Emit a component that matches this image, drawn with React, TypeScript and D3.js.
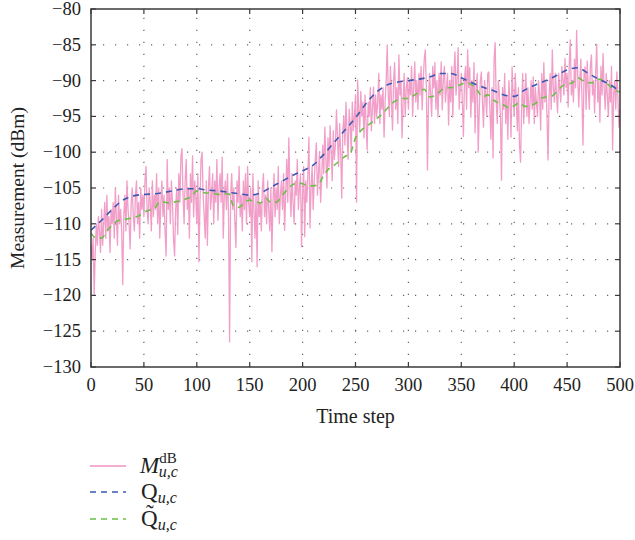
import React, { useRef, useEffect } from 'react';
import * as d3 from 'd3';

// raw measurement M (dB), one value per time step 0..500
const measured = [
  -113, -115, -112, -120, -114, -110, -113, -109, -111, -114,
  -108, -113, -110, -107, -112, -106, -111, -109, -114, -108,
  -110, -107, -112, -105, -109, -113, -106, -110, -108, -111,
  -118.5, -109, -106, -111, -104, -108, -110, -113.5, -107, -105,
  -109, -111, -106, -104, -110, -107, -112, -105, -108, -106,
  -109, -104, -102, -108, -110, -105, -107, -111, -104, -109,
  -106, -108, -103, -110, -105, -112, -107, -104, -109, -106,
  -111, -114.5, -101, -108, -105, -110, -104, -107, -112, -114.5,
  -108, -105, -111.5, -103, -107, -100.5, -99.5, -106, -110, -104,
  -101, -108, -105, -112, -103, -107, -100.5, -109, -104, -106,
  -110, -103, -115.3, -107, -101, -100, -106, -109, -112, -104,
  -113, -105, -102, -108, -106, -103, -110, -104, -107, -101,
  -109.5, -105, -103, -107, -100.7, -112, -106, -104, -108, -103,
  -109, -126.5, -106, -103, -108, -105, -110, -113.3, -104, -107,
  -102, -109, -106, -111, -104, -108, -103, -110, -102, -107,
  -109, -105, -115.3, -103, -108, -112, -106, -116, -104, -109,
  -107, -111, -105, -103, -109, -106, -110, -104, -108, -111,
  -105, -113.9, -107, -103, -109, -105, -108, -102, -110, -106,
  -104, -108, -103, -110.9, -106, -101, -107, -98, -105, -109,
  -103, -107, -110, -104, -106, -101, -108, -105, -103, -113.2,
  -106, -102, -111.8, -104, -107, -103, -97.9, -110.6, -105, -102,
  -108, -104, -101, -98.7, -106, -103, -100, -107, -104, -99,
  -103, -96.5, -101, -105, -98, -102, -96.3, -100, -104, -97,
  -101, -99, -94.1, -98, -102, -96, -100, -106.4, -97, -95,
  -99, -93, -97, -101, -94, -96, -100, -93, -97, -95,
  -92, -107, -89.9, -94, -97, -91.5, -95, -93, -98, -92,
  -96, -99.7, -93, -95, -91, -97, -94, -90.9, -96, -92,
  -95, -93, -89, -96, -92, -94, -91, -97.9, -93, -90,
  -85, -92, -95, -88, -93, -96.9, -90, -87.5, -94, -91,
  -96, -86.4, -92, -90, -98, -93, -89, -95, -91, -89.6,
  -94, -90, -92, -88, -95, -91, -87.4, -93, -90, -94,
  -89, -92, -88, -94.1, -90, -87, -85.7, -91, -102.5, -93,
  -89, -92, -95, -88, -91, -87.5, -94, -90, -95.1, -89,
  -92, -87.4, -94.1, -90, -88, -93, -91, -89, -96.2, -90,
  -93, -88, -95.1, -89, -86, -92, -90, -85.4, -94, -91,
  -89, -93, -97.8, -90, -88, -94, -85.7, -91, -88.2, -95.1,
  -90, -93, -87.5, -97.3, -91, -89, -100, -94, -90, -88.8,
  -93, -96.5, -90, -92, -95, -89, -88.8, -94, -98.2, -91,
  -100.8, -87, -84.7, -93, -96, -90, -92, -95, -103.9, -91,
  -94, -89, -96, -92, -98.2, -90, -93, -97.9, -88.1, -92,
  -95, -89, -93, -97, -91, -99, -101.4, -94, -89, -96,
  -92, -89, -95, -91, -96, -93, -90, -94, -89.5, -96,
  -91, -93, -95, -90, -92, -96.9, -89, -94, -87.5, -93,
  -90, -95, -101.1, -92, -89, -94, -85.7, -91, -93, -89,
  -92, -94.5, -89, -91, -93, -88, -90, -92, -86.9, -91,
  -89, -93.7, -88, -84.3, -92, -90, -93, -87, -91, -83,
  -89, -93.7, -90, -87, -92, -99, -89, -88.1, -94, -87.3,
  -91, -94, -88, -86.4, -92, -90, -94.5, -89, -84.9, -93,
  -90, -95.8, -88, -92, -86.2, -91, -94, -89, -92, -95,
  -90, -93, -88, -99.7, -92, -90, -94, -88.8, -92, -96.5,
  -94,
];

// Q, read every 10 steps
const qValues = [
  -110.9, -109.5, -108, -106.7, -106.1, -105.9, -105.8, -105.6, -105.3, -105.1,
  -105.1, -105.3, -105.4, -105.6, -105.8, -106, -105.7, -104.9, -104.1, -103.3,
  -102.6, -101.8, -100.3, -98.6, -96.9, -95.2, -93.2, -91.6, -90.6, -90.2,
  -90, -89.8, -89.5, -89, -89, -89.6, -90.3, -90.9, -91.4, -92,
  -92.2, -91.3, -90.6, -90, -89.3, -88.5, -88.2, -89, -89.8, -90.5,
  -91.5,
];

// Q tilde, read every 5 steps
const qTildeValues = [
  -111.3, -112, -112, -111, -110.2, -109.6, -109.4, -109.3, -109.1, -108.9,
  -108.4, -108.1, -107.9, -106.9, -107, -107.1, -106.9, -106.8, -106.5, -106.2,
  -105.4, -105.6, -105.7, -105.7, -105.9, -105.9, -105.8, -107.6, -107.7, -107,
  -106.7, -106.9, -107.1, -106.4, -107, -107, -106.2, -105.3, -104.6, -104.3,
  -104.4, -104.7, -104.7, -104.5, -103.2, -102.3, -101.8, -101.2, -100.6, -100.2,
  -98, -97, -96.4, -95.9, -95.3, -94.7, -93.9, -93.1, -92.7, -92.5,
  -92.5, -92.1, -91.6, -91.2, -92.3, -92.1, -91.5, -91, -91, -90.8,
  -90.5, -90.3, -90.6, -91.3, -92.3, -92, -92.7, -93.1, -93.4, -93.8,
  -93.5, -93.1, -93.6, -93.5, -93.2, -92.5, -92.3, -92.2, -91.6, -90.8,
  -90.5, -90.3, -89.6, -90, -90.3, -90.3, -89.8, -90.1, -90.7, -91.3,
  -91.6,
];

const xTicks = [0, 50, 100, 150, 200, 250, 300, 350, 400, 450, 500];
const yTicks = [-80, -85, -90, -95, -100, -105, -110, -115, -120, -125, -130];

const W = 635;
const H = 540;
const serif = '"Liberation Serif", "DejaVu Serif", serif';

function App() {
  const svgRef = useRef(null);

  useEffect(() => {
    const svg = d3.select(svgRef.current);
    svg.selectAll('*').remove();

    const x = d3.scaleLinear().domain([0, 500]).range([91, 620]);
    const y = d3.scaleLinear().domain([-130, -80]).range([367, 9]);

    // dotted grid
    const grid = svg.append('g').attr('stroke', '#666').attr('stroke-width', 1.2).attr('stroke-dasharray', '1.2,10.8');
    grid.selectAll('.gx').data(xTicks.slice(1, -1)).join('line')
      .attr('x1', (d) => x(d)).attr('x2', (d) => x(d))
      .attr('y1', y(-130)).attr('y2', y(-80));
    grid.selectAll('.gy').data(yTicks.slice(1, -1)).join('line')
      .attr('class', 'gy')
      .attr('x1', x(0)).attr('x2', x(500))
      .attr('y1', (d) => y(d)).attr('y2', (d) => y(d));

    const plot = svg.append('g');

    const mLine = d3.line().x((d, i) => x(i)).y((d) => y(d));
    plot.append('path').datum(measured)
      .attr('d', mLine)
      .attr('fill', 'none')
      .attr('stroke', '#f093c2')
      .attr('stroke-opacity', 0.9)
      .attr('stroke-width', 1.3)
      .attr('stroke-linejoin', 'round');

    const qtLine = d3.line().x((d, i) => x(i * 5)).y((d) => y(d)).curve(d3.curveMonotoneX);
    plot.append('path').datum(qTildeValues)
      .attr('d', qtLine)
      .attr('fill', 'none')
      .attr('stroke', '#6cbf47')
      .attr('stroke-width', 1.6)
      .attr('stroke-dasharray', '6,5');

    const qLine = d3.line().x((d, i) => x(i * 10)).y((d) => y(d)).curve(d3.curveMonotoneX);
    plot.append('path').datum(qValues)
      .attr('d', qLine)
      .attr('fill', 'none')
      .attr('stroke', '#3b59b3')
      .attr('stroke-width', 1.6)
      .attr('stroke-dasharray', '6,5');

    // frame + inward ticks
    const frame = svg.append('g').attr('stroke', '#3a3a3a').attr('fill', 'none');
    frame.append('rect')
      .attr('x', x(0)).attr('y', y(-80))
      .attr('width', x(500) - x(0)).attr('height', y(-130) - y(-80))
      .attr('stroke-width', 1.5);
    const tk = 5;
    frame.selectAll('.tb').data(xTicks).join('line')
      .attr('class', 'tb')
      .attr('x1', (d) => x(d)).attr('x2', (d) => x(d))
      .attr('y1', y(-130)).attr('y2', y(-130) - tk).attr('stroke-width', 1.2);
    frame.selectAll('.tt').data(xTicks).join('line')
      .attr('class', 'tt')
      .attr('x1', (d) => x(d)).attr('x2', (d) => x(d))
      .attr('y1', y(-80)).attr('y2', y(-80) + tk).attr('stroke-width', 1.2);
    frame.selectAll('.tl').data(yTicks).join('line')
      .attr('class', 'tl')
      .attr('x1', x(0)).attr('x2', x(0) + tk)
      .attr('y1', (d) => y(d)).attr('y2', (d) => y(d)).attr('stroke-width', 1.2);
    frame.selectAll('.tr').data(yTicks).join('line')
      .attr('class', 'tr')
      .attr('x1', x(500)).attr('x2', x(500) - tk)
      .attr('y1', (d) => y(d)).attr('y2', (d) => y(d)).attr('stroke-width', 1.2);

    // tick labels
    const labels = svg.append('g').attr('font-family', serif).attr('font-size', 18.5).attr('fill', '#222');
    labels.selectAll('.xl').data(xTicks).join('text')
      .attr('class', 'xl')
      .attr('x', (d) => x(d)).attr('y', 391)
      .attr('text-anchor', 'middle')
      .text((d) => d);
    labels.selectAll('.yl').data(yTicks).join('text')
      .attr('class', 'yl')
      .attr('x', 81).attr('y', (d) => y(d) + 6)
      .attr('text-anchor', 'end')
      .text((d) => `\u2212${Math.abs(d)}`);

    svg.append('text')
      .attr('x', (x(0) + x(500)) / 2).attr('y', 423)
      .attr('text-anchor', 'middle')
      .attr('font-family', serif).attr('font-size', 20).attr('fill', '#222')
      .text('Time step');
    svg.append('text')
      .attr('transform', `translate(24,${(y(-80) + y(-130)) / 2}) rotate(-90)`)
      .attr('text-anchor', 'middle')
      .attr('font-family', serif).attr('font-size', 19.5).attr('fill', '#222')
      .text('Measurement (dBm)');

    // legend
    const legend = svg.append('g').attr('font-family', serif).attr('fill', '#222');
    const rows = [
      { y: 466, color: '#f093c2', dash: null },
      { y: 492, color: '#3b59b3', dash: '6,5' },
      { y: 519, color: '#6cbf47', dash: '6,5' },
    ];
    legend.selectAll('line').data(rows).join('line')
      .attr('x1', 90).attr('x2', 126)
      .attr('y1', (d) => d.y).attr('y2', (d) => d.y)
      .attr('stroke', (d) => d.color)
      .attr('stroke-width', 1.5)
      .attr('stroke-dasharray', (d) => d.dash);

    const m = legend.append('text').attr('x', 140).attr('y', 473).attr('font-size', 23);
    m.append('tspan').attr('font-style', 'italic').text('M');
    m.append('tspan').attr('font-size', 15).attr('dy', -10).text('dB');
    m.append('tspan').attr('font-size', 16).attr('font-style', 'italic').attr('dx', -18).attr('dy', 14).text('u,c');

    const q = legend.append('text').attr('x', 141).attr('y', 499).attr('font-size', 23);
    q.append('tspan').text('Q');
    q.append('tspan').attr('font-size', 16).attr('font-style', 'italic').attr('dy', 4).text('u,c');

    const qt = legend.append('text').attr('x', 141).attr('y', 526).attr('font-size', 23);
    qt.append('tspan').text('Q\u0303');
    qt.append('tspan').attr('font-size', 16).attr('font-style', 'italic').attr('dy', 4).text('u,c');
  }, []);

  return (
    <svg
      ref={svgRef}
      width={W}
      height={H}
      style={{ position: 'absolute', left: 0, top: 0, background: '#fff' }}
    ></svg>
  );
}

export default App;
